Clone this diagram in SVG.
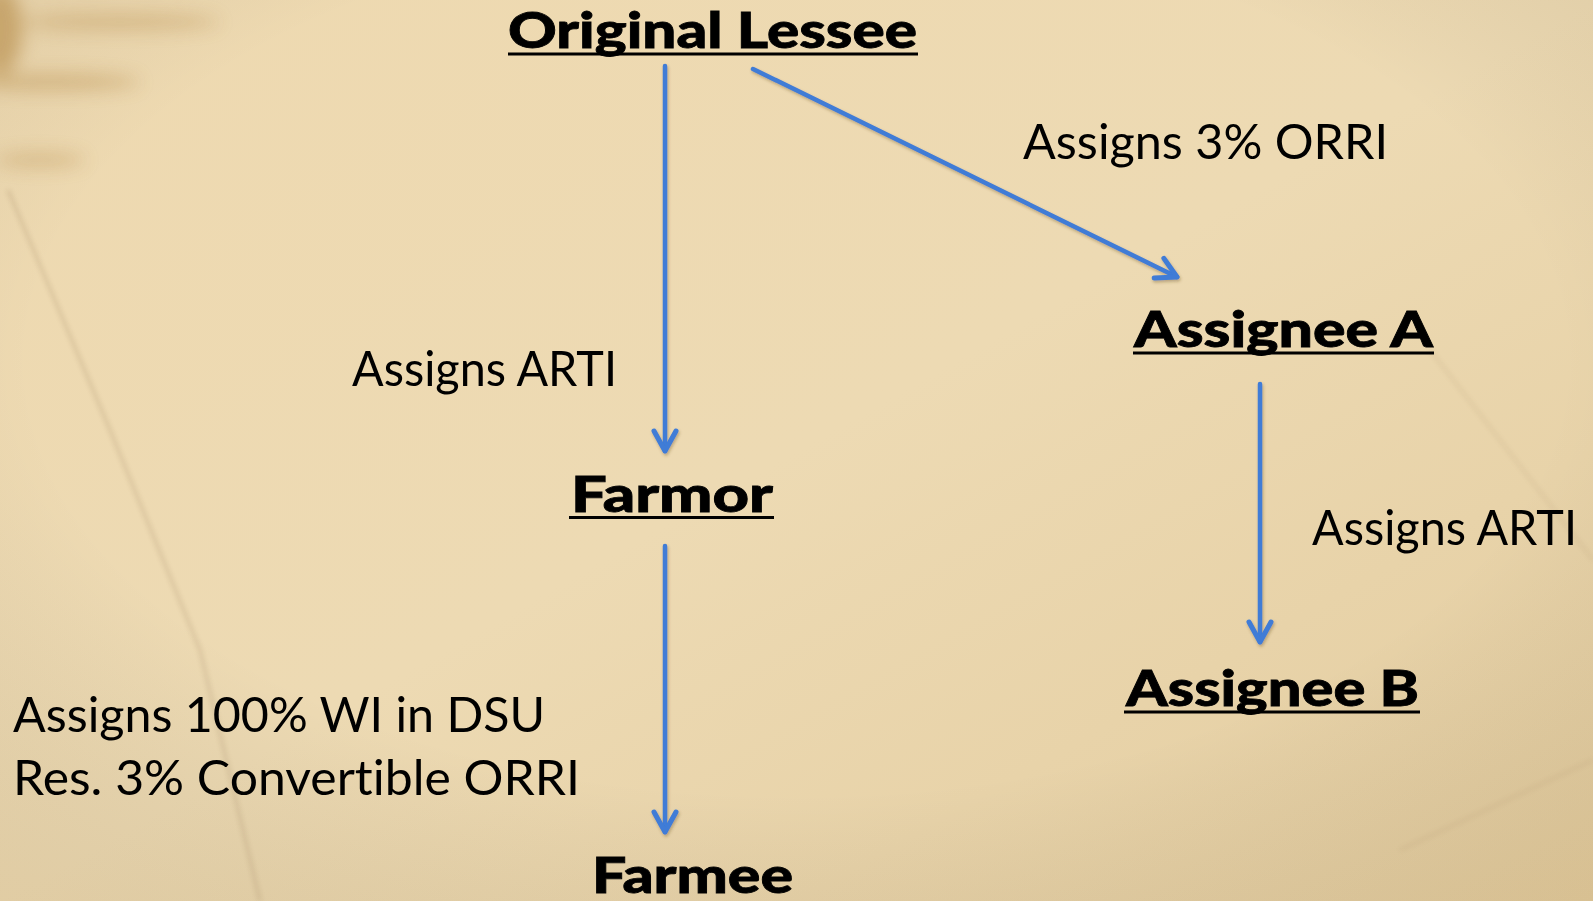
<svg xmlns="http://www.w3.org/2000/svg" width="1593" height="901" viewBox="0 0 1593 901">
<defs>
<style>
.title{font-family:"Lato","Liberation Sans",sans-serif;font-weight:900;font-size:50px;fill:#000;stroke:#000;stroke-width:0.8;}
.label{font-family:"Lato","Liberation Sans",sans-serif;font-weight:400;font-size:49px;fill:#000;font-variant-ligatures:none;}
.ul{stroke:#000;stroke-width:3;}
.conn{stroke:#3f7bd6;stroke-width:4.5;fill:none;stroke-linecap:round;}
</style>
<linearGradient id="bg" x1="0" y1="0" x2="1" y2="1">
<stop offset="0" stop-color="#eed9b0"/>
<stop offset="0.5" stop-color="#eddab3"/>
<stop offset="1" stop-color="#e3cc9f"/>
</linearGradient>
<radialGradient id="vig" cx="0.5" cy="0.4" r="0.8">
<stop offset="0.6" stop-color="#000" stop-opacity="0"/>
<stop offset="1" stop-color="#8a6a30" stop-opacity="0.12"/>
</radialGradient>
<filter id="blur8" x="-50%" y="-50%" width="200%" height="200%"><feGaussianBlur stdDeviation="9"/></filter>
<filter id="blur3" x="-50%" y="-50%" width="200%" height="200%"><feGaussianBlur stdDeviation="2.5"/></filter>
<filter id="shadow" x="-20%" y="-20%" width="140%" height="140%"><feDropShadow dx="1" dy="2" stdDeviation="1.5" flood-color="#5a4520" flood-opacity="0.35"/></filter>
<marker id="chev" markerUnits="userSpaceOnUse" viewBox="-30 -20 40 40" refX="0" refY="0" markerWidth="40" markerHeight="40" orient="auto" overflow="visible">
<path d="M-20,-11 L0,0 L-20,11" fill="none" stroke="#3f7bd6" stroke-width="5" stroke-linecap="round" stroke-linejoin="round"/>
</marker>
</defs>
<g id="background">
<rect width="1593" height="901" fill="url(#bg)"/>
<rect width="1593" height="901" fill="url(#vig)"/>
<g filter="url(#blur8)" fill="#b0833c" opacity="0.55">
<ellipse cx="0" cy="30" rx="22" ry="45"/>
<ellipse cx="120" cy="22" rx="100" ry="8" opacity="0.6"/>
<ellipse cx="50" cy="82" rx="90" ry="8" opacity="0.7"/>
<ellipse cx="40" cy="160" rx="45" ry="7" opacity="0.6"/>
</g>
<g filter="url(#blur3)" stroke="#8e7450" stroke-width="2" fill="none" opacity="0.35">
<path d="M8,190 L110,430 L200,650 L260,901"/>
<path d="M1430,350 L1593,560" opacity="0.5"/>
<path d="M1400,850 L1593,760" opacity="0.4"/>
</g>
</g>
<g id="connectors" filter="url(#shadow)">
<line class="conn" x1="665" y1="66" x2="665" y2="451" marker-end="url(#chev)"/>
<line class="conn" x1="753" y1="69" x2="1177" y2="277" marker-end="url(#chev)"/>
<line class="conn" x1="665" y1="546" x2="665" y2="832" marker-end="url(#chev)"/>
<line class="conn" x1="1260" y1="384" x2="1260" y2="642" marker-end="url(#chev)"/>
</g>
<g id="node-original-lessee">
<text class="title" x="508" y="48" textLength="409" lengthAdjust="spacingAndGlyphs">Original Lessee</text>
<line class="ul" x1="508" y1="54" x2="918" y2="54"/>
</g>
<g id="node-farmor">
<text class="title" x="571" y="512" textLength="202" lengthAdjust="spacingAndGlyphs">Farmor</text>
<line class="ul" x1="569" y1="517.5" x2="774" y2="517.5"/>
</g>
<g id="node-assignee-a">
<text class="title" x="1134" y="347" textLength="299" lengthAdjust="spacingAndGlyphs">Assignee A</text>
<line class="ul" x1="1133" y1="353" x2="1434" y2="353"/>
</g>
<g id="node-assignee-b">
<text class="title" x="1126" y="706" textLength="293" lengthAdjust="spacingAndGlyphs">Assignee B</text>
<line class="ul" x1="1124" y1="712" x2="1420" y2="712"/>
</g>
<g id="node-farmee">
<text class="title" x="592" y="893" textLength="201" lengthAdjust="spacingAndGlyphs">Farmee</text>
</g>
<g id="labels">
<text class="label" x="1023" y="159" textLength="365" lengthAdjust="spacingAndGlyphs">Assigns 3% ORRI</text>
<text class="label" x="352" y="386" textLength="265" lengthAdjust="spacingAndGlyphs">Assigns ARTI</text>
<text class="label" x="1312" y="545" textLength="265" lengthAdjust="spacingAndGlyphs">Assigns ARTI</text>
<text class="label" x="13" y="732" textLength="532" lengthAdjust="spacingAndGlyphs">Assigns 100% WI in DSU</text>
<text class="label" x="13" y="795" textLength="567" lengthAdjust="spacingAndGlyphs">Res. 3% Convertible ORRI</text>
</g>
</svg>
